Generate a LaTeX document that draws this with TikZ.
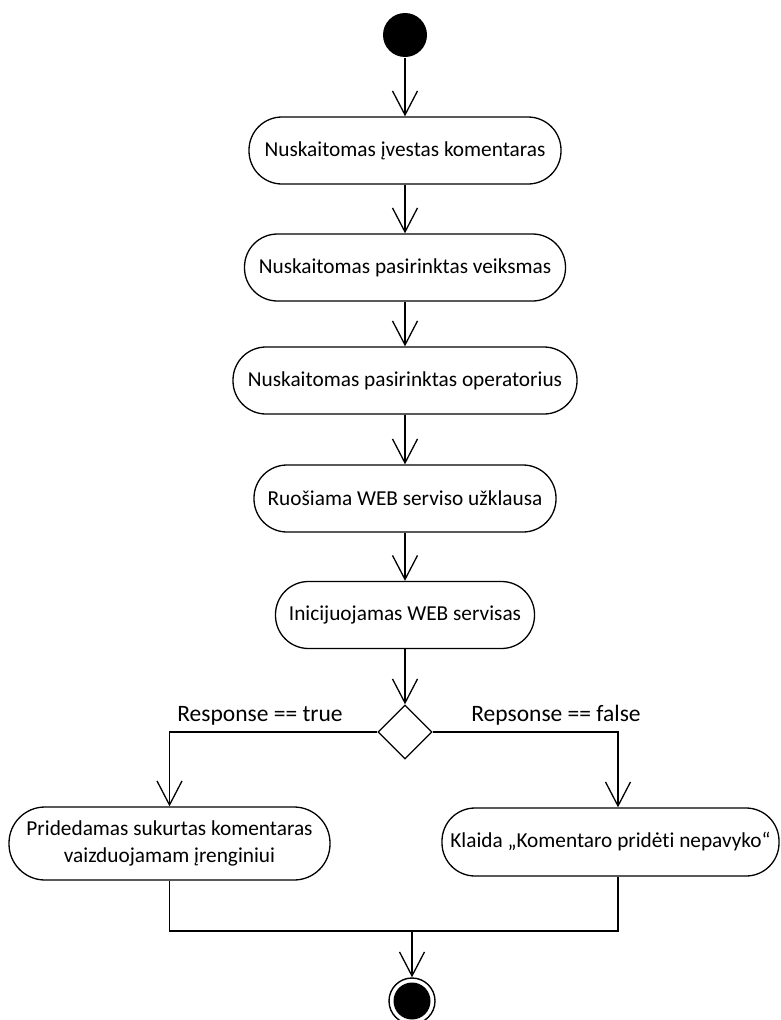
\documentclass[tikz,border=0pt]{standalone}
\usepackage{fontspec}
\setmainfont{Carlito}[Ligatures=NoCommon]
\usetikzlibrary{arrows.meta,shapes.geometric}
\begin{document}
\begin{tikzpicture}[x=1pt,y=-1pt,
  line width=1.3pt,
  action/.style={draw, rectangle, rounded corners=33pt, minimum height=67pt,
                 inner sep=0pt, align=center, font=\fontsize{21.3}{27}\selectfont},
  flow/.style={-{Straight Barb[length=24pt,width=25pt]}},
  decision/.style={draw, diamond, minimum width=54pt, minimum height=54pt,
                   inner sep=0pt, fill=white},
  guard/.style={inner sep=0pt, anchor=base, font=\fontsize{23.5}{28}\selectfont}]
\useasboundingbox (0,0) rectangle (781,1020);

% initial state
\node[circle, fill=black, minimum size=44pt, inner sep=0pt] (start) at (405,35) {};

% actions
\node[action, minimum width=312pt] (a1) at (405,150.5) {Nuskaitomas įvestas komentaras};
\node[action, minimum width=321pt] (a2) at (405,267.5) {Nuskaitomas pasirinktas veiksmas};
\node[action, minimum width=344pt] (a3) at (405,380.5) {Nuskaitomas pasirinktas operatorius};
\node[action, minimum width=302pt] (a4) at (405,498.5) {Ruošiama WEB serviso užklausa};
\node[action, minimum width=259pt] (a5) at (405,615)   {Inicijuojamas WEB servisas};

% decision
\node[decision] (dec) at (405,732) {};
\node[guard] (gt) at (260,721) {Response == true};
\node[guard] (gf) at (556,721) {Repsonse == false};

% branch actions
\node[action, minimum width=321pt, minimum height=73pt, rounded corners=36pt]
  (ok) at (169.5,843.5) {Pridedamas sukurtas komentaras\\vaizduojamam įrenginiui};
\node[action, minimum width=337pt, minimum height=68pt] (err) at (610.5,842)
  {Klaida „Komentaro pridėti nepavyko“};

% final state
\node[circle, draw, line width=1.4pt, minimum size=46pt, inner sep=0pt] (end) at (412,1001) {};
\fill (end.center) circle (18.5);

\coordinate (join) at (412,931);

% control flow
\draw[flow] (start) -- (a1);
\draw[flow] (a1) -- (a2);
\draw[flow] (a2) -- (a3);
\draw[flow] (a3) -- (a4);
\draw[flow] (a4) -- (a5);
\draw[flow] (a5) -- (dec);
\draw[flow] (dec.west) -| (ok.north);
\draw[flow] (dec.east) -| ([xshift=7.5pt]err.north);
\draw (ok.south) |- (join);
\draw ([xshift=7.5pt]err.south) |- (join);
\draw[flow] (join) -- (end);
\end{tikzpicture}
\end{document}
